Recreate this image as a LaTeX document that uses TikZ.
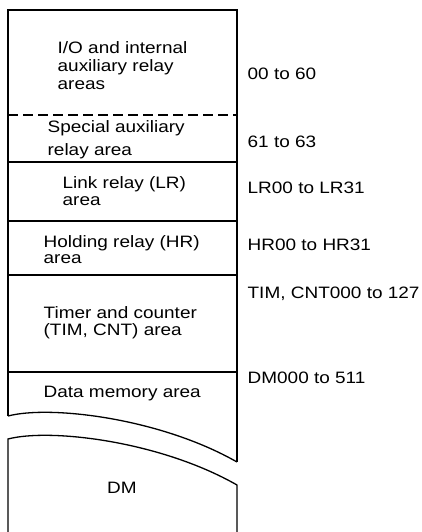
\documentclass[tikz,border=0pt]{standalone}
\usepackage{fontspec}
\setmainfont{Liberation Sans}[FakeStretch=1.15]
\begin{document}
\begin{tikzpicture}[x=1pt,y=-1pt,line width=1.3pt,
  txt/.style={font=\fontsize{16.5}{18}\selectfont,inner sep=0pt,anchor=base west},
  sep/.style={line width=1.3pt}]
\useasboundingbox (0,0) rectangle (422,532);
% frame of upper part
\draw (8,416) -- (8,10) -- (237,10) -- (237,462);
\draw (8,416) .. controls (50,405) and (160,418) .. (237,462);
% lower DM part
\draw (8,532) -- (8,439) .. controls (50,428) and (160,441) .. (237,485) -- (237,532);
% separators
\draw[sep,dash pattern=on 10pt off 5pt] (8,115) -- (237,115);
\draw[sep] (8,162) -- (237,162);
\draw[sep] (8,221) -- (237,221);
\draw[sep] (8,275) -- (237,275);
\draw[sep] (8,372) -- (237,372);
% area texts
\node[txt] (io1) at (57,54) {I/O and internal};
\node[txt] (io2) at (57,72) {auxiliary relay};
\node[txt] (io3) at (57,90) {areas};
\node[txt] (sp1) at (47,132) {Special auxiliary};
\node[txt] (sp2) at (47,155) {relay area};
\node[txt] (lr1) at (62,188) {Link relay (LR)};
\node[txt] (lr2) at (62,205) {area};
\node[txt] (hr1) at (43,247) {Holding relay (HR)};
\node[txt] (hr2) at (43,263) {area};
\node[txt] (tc1) at (43,318) {Timer and counter};
\node[txt] (tc2) at (43,335) {(TIM, CNT) area};
\node[txt] (dm1) at (43,397) {Data memory area};
\node[txt,anchor=base] (dm) at (122,493) {DM};
% address ranges
\node[txt] (r1) at (247,80) {00 to 60};
\node[txt] (r2) at (247,147) {61 to 63};
\node[txt] (r3) at (247,193) {LR00 to LR31};
\node[txt] (r4) at (247,250) {HR00 to HR31};
\node[txt] (r5) at (247,298) {TIM, CNT000 to 127};
\node[txt] (r6) at (247,383) {DM000 to 511};
\end{tikzpicture}
\end{document}
